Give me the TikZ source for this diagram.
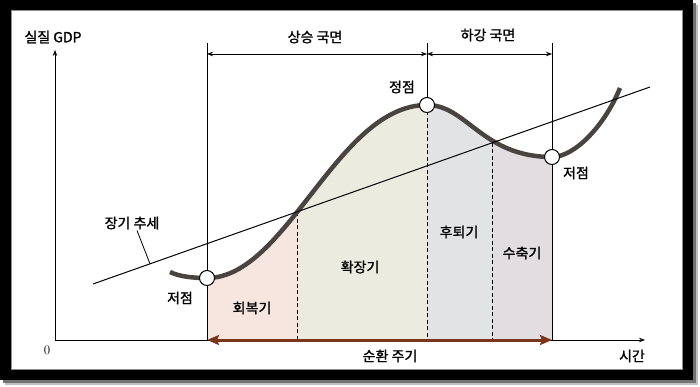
\documentclass[tikz,border=0pt]{standalone}
\usepackage{fontspec}
\newfontfamily\kr[FakeBold=1.2]{Noto Sans CJK KR}
\usetikzlibrary{arrows.meta}
\definecolor{recovery}{HTML}{F7E6DF}
\definecolor{expansion}{HTML}{EBEBDF}
\definecolor{slowdown}{HTML}{E1E3E5}
\definecolor{contraction}{HTML}{E2DDE1}
\definecolor{cyclebrown}{HTML}{7B3519}
\definecolor{curvegray}{HTML}{4A4441}
\tikzset{
  lbl/.style={font=\kr\fontsize{14}{16}\selectfont, inner sep=1pt},
  turnpt/.style={circle, draw, fill=white, minimum size=15pt, inner sep=0pt, line width=1pt},
  guide/.style={line width=0.8pt},
  phase/.style={dashed, line width=0.8pt, dash pattern=on 4pt off 2.5pt},
  tip/.style={-{Stealth[length=6pt,width=4.5pt]}},
  twotip/.style={{Stealth[length=6pt,width=4.5pt]}-{Stealth[length=6pt,width=4.5pt]}}
}
\begin{document}
\begin{tikzpicture}[x=1pt, y=-1pt]
    \useasboundingbox (0,0) rectangle (700,387);
    %Frame with shadow
    \fill[black!25] (5,5) rectangle (698,385);
    \fill[black!55] (3,3) rectangle (696,383);
    \fill[black] (0,0) rectangle (693,380);
    \fill[white] (11,10) rectangle (682,369);
    \draw[black!45, line width=0.6pt] (11,10) rectangle (682,369);
    %Phase areas under the curve
    \foreach \xa/\xb/\col in {207/297/recovery, 297/427/expansion, 427/492/slowdown, 492/552/contraction} {
      \begin{scope}
        \clip (\xa,0) rectangle (\xb,340);
        \fill[\col] (170,272) .. controls (180,277) and (195,278) .. (207,278)
          .. controls (287,278) and (337,105) .. (427,105)
          .. controls (467,105) and (482,157) .. (552,157)
          .. controls (575,157) and (605,125) .. (620,88) -- (620,340) -- (170,340) -- cycle;
      \end{scope}
    }
    %Axes
    \coordinate (O) at (55,340);
    \coordinate (ytop) at (55,50);
    \coordinate (xend) at (645,340);
    \draw[guide, tip] (O) -- (ytop);
    \draw[guide, tip] (O) -- (xend);
    %Turning points
    \coordinate (troughL) at (207,278);
    \coordinate (peak) at (427,105);
    \coordinate (troughR) at (552,157);
    %Guide lines
    \coordinate (topL) at (207,43);
    \coordinate (topM) at (427,43);
    \coordinate (topR) at (552,43);
    \coordinate (botL) at (207,340);
    \coordinate (botR) at (552,340);
    \draw[guide] (topL) -- (botL);
    \draw[guide] (topM) -- (peak);
    \draw[guide] (topR) -- (botR);
    %Dashed phase borders
    \draw[phase] (297,212) -- (297,340);
    \draw[phase] (peak) -- (427,340);
    \draw[phase] (492,143) -- (492,340);
    %Cycle curve
    \draw[curvegray, line width=4.5pt] (170,272) .. controls (180,277) and (195,278) .. (troughL)
      .. controls (287,278) and (337,105) .. (peak)
      .. controls (467,105) and (482,157) .. (troughR)
      .. controls (575,157) and (605,125) .. (620,88);
    %Long-run trend
    \coordinate (trendA) at (93,284);
    \coordinate (trendB) at (650,87);
    \coordinate (trendpt) at (150,263.8);
    \draw[line width=1pt] (trendA) -- (trendB);
    %Point markers
    \node[turnpt] (tL) at (troughL) {};
    \node[turnpt] (pk) at (peak) {};
    \node[turnpt] (tR) at (troughR) {};
    %Labels
    \node[lbl] (gdp) at (53,37) {실질 GDP};
    \node[font=\fontsize{13}{15}\selectfont] (zero) at (47,350) {0};
    \node[lbl] (time) at (632,356) {시간};
    \node[lbl] (up) at (315,37) {상승 국면};
    \node[lbl] (down) at (488,35) {하강 국면};
    \node[lbl] (peaklbl) at (402,87) {정점};
    \node[lbl] (troughRlbl) at (576,173) {저점};
    \node[lbl] (troughLlbl) at (180,298) {저점};
    \node[lbl] (trendlbl) at (132,223) {장기 추세};
    \node[lbl] (recov) at (252,308) {회복기};
    \node[lbl] (expan) at (360,267) {확장기};
    \node[lbl] (slow) at (459,232) {후퇴기};
    \node[lbl] (contr) at (522,253) {수축기};
    \node[lbl] (cycle) at (390,356) {순환 주기};
    %Pointer to trend
    \draw[line width=0.8pt] ([xshift=5pt]trendlbl.south) -- (trendpt);
    %Phase arrows
    \draw[guide, twotip] (207,54) -- (427,54);
    \draw[guide, twotip] (427,54) -- (552,54);
    %Cycle arrow
    \draw[cyclebrown, line width=3pt, {Stealth[length=12pt,width=10pt,inset=2pt]}-{Stealth[length=12pt,width=10pt,inset=2pt]}] (botL) -- (botR);
\end{tikzpicture}
\end{document}
